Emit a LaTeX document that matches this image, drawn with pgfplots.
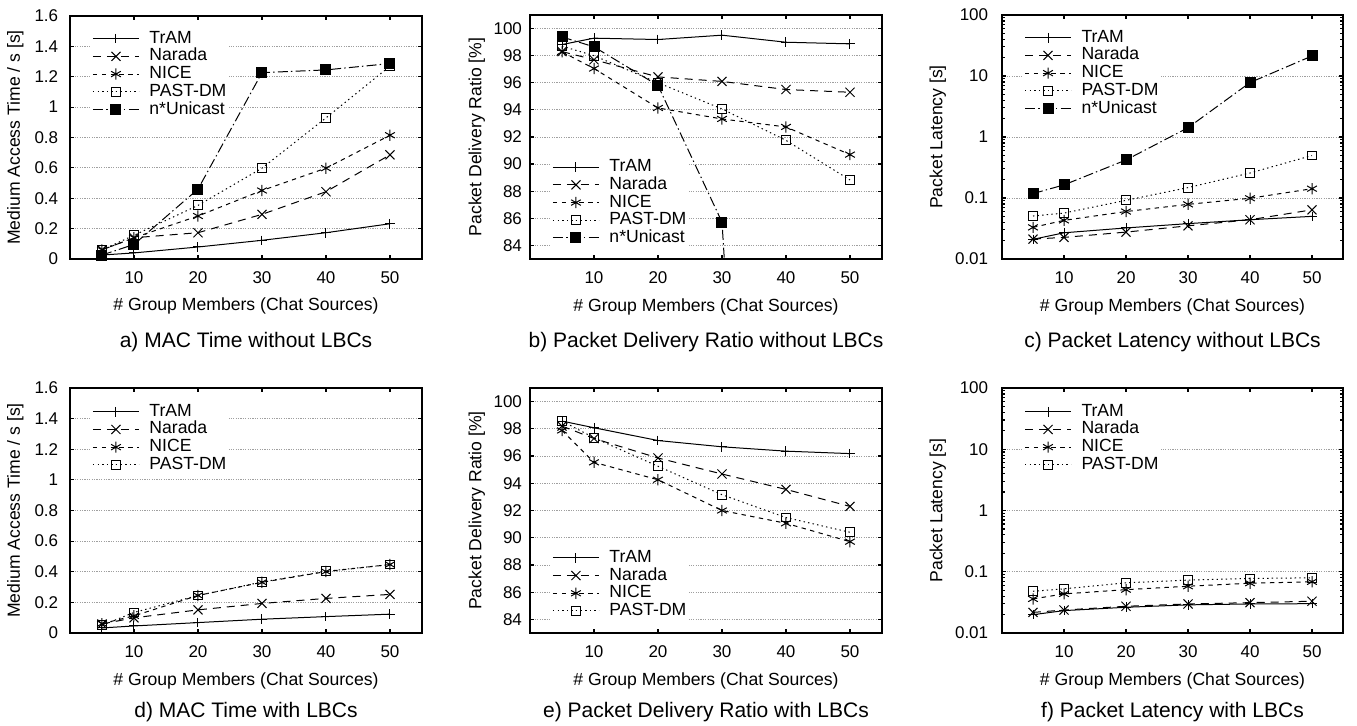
\documentclass[border=0pt]{standalone}
\usepackage{fontspec}
\setmainfont{Liberation Sans}
\usepackage{pgfplots}
\pgfplotsset{compat=1.18}
\newcommand{\lf}{\fontsize{8.5}{10}\selectfont}
\newcommand{\gf}{\fontsize{8.8}{10}\selectfont}
\newcommand{\cf}{\fontsize{10.5}{12}\selectfont}
\pgfplotsset{
  base/.style={
    scale only axis, width=176pt, height=122pt,
    xmin=0, xmax=55, xtick={10,20,30,40,50},
    tick align=inside, major tick length=2.2pt, minor tick length=1.3pt,
    axis line style={line width=0.9pt},
    every tick/.style={black, line width=0.6pt},
    ymajorgrids, major grid style={gray!75, line width=0.4pt, dash pattern=on 0.6pt off 0.6pt},
    tick label style={font=\lf},
    /pgf/number format/assume math mode=true,
    /pgf/number format/fixed,
    xlabel={\# Group Members (Chat Sources)},
    every axis x label/.style={at={(axis description cs:0.5,-0.195)}, anchor=center, font=\gf},
    xticklabel style={yshift=-3pt},
    legend cell align=left,
    legend style={draw=none, fill=white, font=\gf, inner sep=1pt, row sep=0pt,
      nodes={font=\gf, inner sep=0.5pt, text height=6.2pt, text depth=1.65pt},
      /tikz/every odd column/.append style={column sep=4.5pt}},
    legend image code/.code={\draw[mark repeat=2,mark phase=2] plot coordinates {(0pt,0pt) (11.5pt,0pt) (23pt,0pt)};},
  },
  ylA/.style={every axis y label/.style={at={(axis description cs:#1,0.5)}, rotate=90, anchor=center, font=\gf}},
  tram/.style={black, line width=0.5pt, solid, mark=+, mark size=2.4pt, mark options={solid}},
  narada/.style={black, line width=0.5pt, dash pattern=on 4pt off 3pt, mark=x, mark size=3.2pt, mark options={solid}},
  nice/.style={black, line width=0.5pt, dash pattern=on 2.2pt off 2.2pt, mark=asterisk, mark size=2.8pt, mark options={solid}},
  past/.style={black, line width=0.5pt, dash pattern=on 0.7pt off 1.6pt, mark=square, mark size=2.2pt, mark options={solid}},
  unic/.style={black, line width=0.5pt, dash pattern=on 5pt off 1.6pt on 0.7pt off 1.6pt, mark=square*, mark size=2.5pt, mark options={solid, fill=black}},
}
\begin{document}
\begin{tikzpicture}
\useasboundingbox (0pt,0pt) rectangle (678.5pt,-363pt);
% a
\begin{axis}[base, at={(35pt,-129.5pt)}, anchor=south west, height=121.5pt,
  ymin=0, ymax=1.6, ytick={0,0.2,...,1.6}, ylA=-0.155,
  yticklabel style={xshift=-2.4pt},
  ylabel={Medium Access Time / s [s]},
  legend style={at={(axis description cs:0.057,0.953)}, anchor=north west}]
\addplot[tram] coordinates {(5,0.026) (10,0.04) (20,0.079) (30,0.123) (40,0.173) (50,0.232)};
\addlegendentry{\gf TrAM}
\addplot[narada] coordinates {(5,0.06) (10,0.14) (20,0.173) (30,0.294) (40,0.443) (50,0.686)};
\addlegendentry{\gf Narada}
\addplot[nice] coordinates {(5,0.06) (10,0.14) (20,0.283) (30,0.451) (40,0.598) (50,0.815)};
\addlegendentry{\gf NICE}
\addplot[past] coordinates {(5,0.06) (10,0.156) (20,0.353) (30,0.598) (40,0.929) (50,1.27)};
\addlegendentry{\gf PAST-DM}
\addplot[unic] coordinates {(5,0.026) (10,0.096) (20,0.46) (30,1.227) (40,1.245) (50,1.287)};
\addlegendentry{\gf n*Unicast}
\end{axis}
% b
\begin{axis}[base, at={(265pt,-129.5pt)}, anchor=south west,
  ymin=83, ymax=101, ytick={84,86,...,100}, ylA=-0.151,
  yticklabel style={xshift=-0.5pt},
  ylabel={Packet Delivery Ratio [\%]},
  legend style={at={(axis description cs:0.057,0.040)}, anchor=south west}]
\addplot[tram] coordinates {(5,98.82) (10,99.29) (20,99.19) (30,99.51) (40,98.99) (50,98.87)};
\addlegendentry{\gf TrAM}
\addplot[narada] coordinates {(5,98.3) (10,97.7) (20,96.43) (30,96.1) (40,95.5) (50,95.3)};
\addlegendentry{\gf Narada}
\addplot[nice] coordinates {(5,98.28) (10,97.05) (20,94.14) (30,93.33) (40,92.74) (50,90.7)};
\addlegendentry{\gf NICE}
\addplot[past] coordinates {(5,98.7) (10,98.0) (20,96.0) (30,94.07) (40,91.75) (50,88.83)};
\addlegendentry{\gf PAST-DM}
\addplot[unic] coordinates {(5,99.38) (10,98.65) (20,95.8) (30,85.72) (40,10)};
\addlegendentry{\gf n*Unicast}
\end{axis}
% c
\begin{axis}[base, at={(501pt,-129.5pt)}, anchor=south west, width=170.5pt,
  ymode=log, ymin=0.01, ymax=100, ytick={0.01,0.1,1,10,100},
  yticklabels={0.01,0.1,1,10,100}, ylA=-0.188,
  yticklabel style={xshift=-3.4pt},
  ylabel={Packet Latency [s]},
  legend style={at={(axis description cs:0.059,0.953)}, anchor=north west}]
\addplot[tram] coordinates {(5,0.021) (10,0.0269) (20,0.0323) (30,0.038) (40,0.044) (50,0.050)};
\addlegendentry{\gf TrAM}
\addplot[narada] coordinates {(5,0.0212) (10,0.0226) (20,0.0276) (30,0.035) (40,0.044) (50,0.064)};
\addlegendentry{\gf Narada}
\addplot[nice] coordinates {(5,0.033) (10,0.043) (20,0.060) (30,0.0787) (40,0.099) (50,0.142)};
\addlegendentry{\gf NICE}
\addplot[past] coordinates {(5,0.0506) (10,0.0566) (20,0.0916) (30,0.148) (40,0.257) (50,0.497)};
\addlegendentry{\gf PAST-DM}
\addplot[unic] coordinates {(5,0.118) (10,0.164) (20,0.42) (30,1.42) (40,7.8) (50,21.3)};
\addlegendentry{\gf n*Unicast}
\end{axis}
% d
\begin{axis}[base, at={(35pt,-316.5pt)}, anchor=south west, height=122.5pt,
  ymin=0, ymax=1.6, ytick={0,0.2,...,1.6}, ylA=-0.155,
  yticklabel style={xshift=-2.4pt},
  ylabel={Medium Access Time / s [s]},
  legend style={at={(axis description cs:0.057,0.949)}, anchor=north west}]
\addplot[tram] coordinates {(5,0.033) (10,0.046) (20,0.068) (30,0.09) (40,0.107) (50,0.123)};
\addlegendentry{\gf TrAM}
\addplot[narada] coordinates {(5,0.059) (10,0.099) (20,0.151) (30,0.193) (40,0.226) (50,0.252)};
\addlegendentry{\gf Narada}
\addplot[nice] coordinates {(5,0.061) (10,0.112) (20,0.245) (30,0.331) (40,0.401) (50,0.447)};
\addlegendentry{\gf NICE}
\addplot[past] coordinates {(5,0.05) (10,0.134) (20,0.245) (30,0.333) (40,0.403) (50,0.447)};
\addlegendentry{\gf PAST-DM}
\end{axis}
% e
\begin{axis}[base, at={(265pt,-316.5pt)}, anchor=south west, height=122.5pt,
  ymin=83, ymax=101, ytick={84,86,...,100}, ylA=-0.151,
  yticklabel style={xshift=-0.5pt},
  ylabel={Packet Delivery Ratio [\%]},
  legend style={at={(axis description cs:0.057,0.044)}, anchor=south west}]
\addplot[tram] coordinates {(5,98.57) (10,98.08) (20,97.14) (30,96.68) (40,96.36) (50,96.18)};
\addlegendentry{\gf TrAM}
\addplot[narada] coordinates {(5,98.2) (10,97.29) (20,95.86) (30,94.68) (40,93.55) (50,92.3)};
\addlegendentry{\gf Narada}
\addplot[nice] coordinates {(5,97.88) (10,95.54) (20,94.26) (30,92.0) (40,91.06) (50,89.71)};
\addlegendentry{\gf NICE}
\addplot[past] coordinates {(5,98.57) (10,97.34) (20,95.25) (30,93.16) (40,91.48) (50,90.4)};
\addlegendentry{\gf PAST-DM}
\end{axis}
% f
\begin{axis}[base, at={(501pt,-316.5pt)}, anchor=south west, width=170.5pt, height=122.5pt,
  ymode=log, ymin=0.01, ymax=100, ytick={0.01,0.1,1,10,100},
  yticklabels={0.01,0.1,1,10,100}, ylA=-0.188,
  yticklabel style={xshift=-3.4pt},
  ylabel={Packet Latency [s]},
  legend style={at={(axis description cs:0.059,0.949)}, anchor=north west}]
\addplot[tram] coordinates {(5,0.0199) (10,0.0232) (20,0.0263) (30,0.0288) (40,0.0298) (50,0.0301)};
\addlegendentry{\gf TrAM}
\addplot[narada] coordinates {(5,0.0217) (10,0.0237) (20,0.0273) (30,0.0298) (40,0.0313) (50,0.033)};
\addlegendentry{\gf Narada}
\addplot[nice] coordinates {(5,0.036) (10,0.0435) (20,0.051) (30,0.058) (40,0.065) (50,0.0685)};
\addlegendentry{\gf NICE}
\addplot[past] coordinates {(5,0.048) (10,0.0526) (20,0.066) (30,0.073) (40,0.0777) (50,0.0796)};
\addlegendentry{\gf PAST-DM}
\end{axis}
% captions
\node[font=\cf] at (123pt,-171pt) {a) MAC Time without LBCs};
\node[font=\cf] at (353pt,-171pt) {b) Packet Delivery Ratio without LBCs};
\node[font=\cf] at (586.25pt,-171pt) {c) Packet Latency without LBCs};
\node[font=\cf] at (123pt,-356pt) {d) MAC Time with LBCs};
\node[font=\cf] at (353pt,-356pt) {e) Packet Delivery Ratio with LBCs};
\node[font=\cf] at (586.25pt,-356pt) {f) Packet Latency with LBCs};
\end{tikzpicture}
\end{document}
